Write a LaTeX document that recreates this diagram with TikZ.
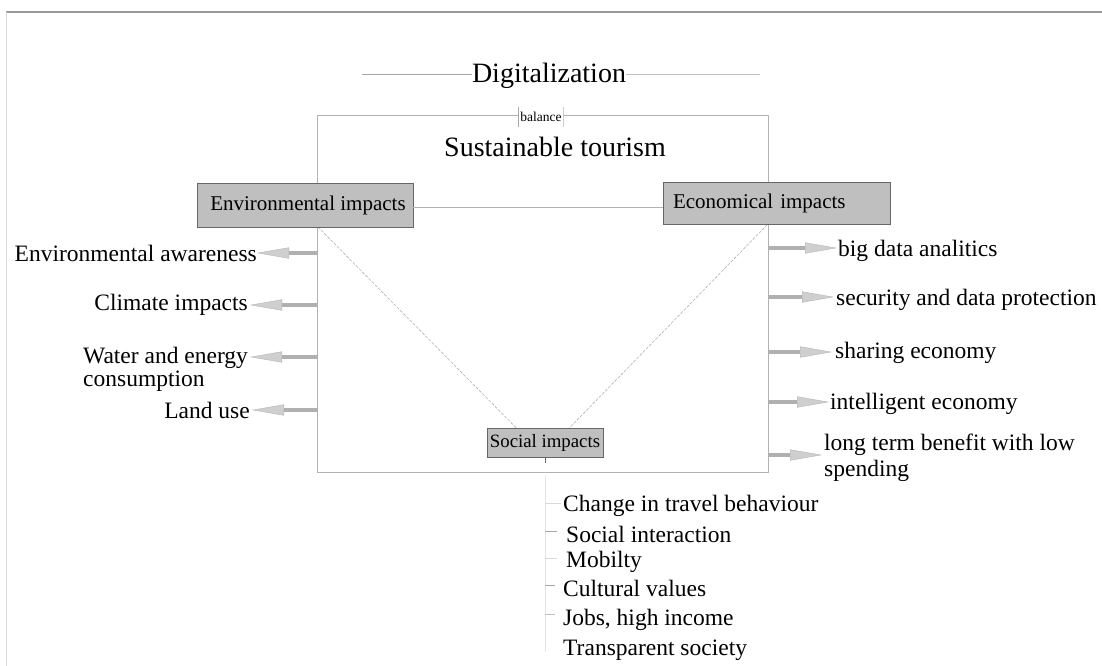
\documentclass[tikz,border=0pt]{standalone}
\usepackage{fontspec}
\setmainfont{Liberation Serif}
\usetikzlibrary{arrows.meta}
\tikzset{
  frame/.style={draw=gray!60, line width=1pt},
  faint/.style={draw=gray!30, line width=0.8pt},
  impact/.style={draw=gray!80!black, fill=gray!50, line width=0.8pt, inner sep=0pt, font=\fontsize{21}{24}\selectfont},
  big/.style={inner sep=0pt, font=\fontsize{28}{32}\selectfont},
  item/.style={inner sep=0pt, font=\fontsize{23.5}{23}\selectfont, align=left},
  fat/.style={line width=4pt, draw=gray!62, shorten <=0pt,
    -{Triangle[length=32pt,width=11pt,fill=gray!38,color=gray!58,line width=0.4pt]}},
  diag/.style={draw=gray!60, line width=0.6pt, dash pattern=on 3pt off 1.5pt},
  tick/.style={draw=gray!70, line width=1pt}
}
\begin{document}
\begin{tikzpicture}[x=1pt,y=-1pt]
\useasboundingbox (0,0) rectangle (1102,666);
\fill[white] (0,0) rectangle (1102,666);
% page edges
\coordinate (tl) at (6,12);
\coordinate (tr) at (1102,12);
\coordinate (bl) at (6,666);
\draw[draw=gray!80, line width=1.5pt] (tl) -- (tr);
\draw[faint] (tl) -- (bl);

% Digitalization
\node[big] (dig) at (549,76) {Digitalization};
\coordinate (digL) at (362,74);
\coordinate (digR) at (760,74);
\draw[draw=gray!70, line width=0.8pt] (digL) -- (dig.west |- digL);
\draw[faint, draw=gray!50] (dig.east |- digR) -- (digR);

% sustainable tourism frame
\node[inner xsep=1.5pt, inner ysep=0pt, minimum height=19pt, font=\fontsize{13.5}{14}\selectfont] (bal) at (541,117) {balance};
\coordinate (ftl) at (317,116);
\coordinate (ftr) at (768,116);
\coordinate (fbl) at (317,472);
\coordinate (fbr) at (768,472);
\draw[frame] (bal.west |- ftl) -- (ftl) -- (fbl) -- (fbr) -- (ftr) -- (bal.east |- ftr);
\draw[draw=gray!70, line width=0.6pt] (bal.north west) -- (bal.south west);
\draw[draw=gray!40, line width=0.6pt] (bal.north east) -- (bal.south east);
\node[big] (st) at (555,147) {Sustainable tourism};

% dashed diagonals to social
\coordinate (envB) at (318,227);
\coordinate (ecoB) at (768,224);
\coordinate (soc0) at (543,455);
\draw[diag] (envB) -- (soc0) -- (ecoB);

% impact boxes
\node[impact, minimum width=216pt, minimum height=44pt] (env) at (305,205) {\hspace{6pt}Environmental impacts};
\node[impact, minimum width=227pt, minimum height=42pt, text width=207pt, align=left] (eco) at (776.5,203) {Economical impacts};
\draw[draw=gray!60, line width=1pt] (env.east |- 0,207) -- (eco.west |- 0,207);
\node[impact, minimum width=116pt, minimum height=29pt, font=\fontsize{18.8}{22}\selectfont] (soc) at (545,442.5) {Social impacts};

% left items
\node[item, anchor=east] (l1) at (257,253) {Environmental awareness};
\node[item, anchor=east] (l2) at (248,305) {Climate impacts};
\node[item, anchor=north west] (l3) at (83,347) {Water and energy\\consumption};
\node[item, anchor=east] (l4) at (250,410) {Land use};
\coordinate (la1) at (318,253);
\coordinate (la2) at (318,305);
\coordinate (la3) at (318,357);
\coordinate (la4) at (318,410);
\draw[fat] (la1) -- (l1.east |- la1);
\draw[fat] (la2) -- ([xshift=2pt]l2.east |- la2);
\draw[fat] (la3) -- ([xshift=2pt]l3.east |- la3);
\draw[fat] (la4) -- ([xshift=2pt]l4.east |- la4);

% right items
\node[item, anchor=west] (r1) at (838,251) {big data analitics};
\node[item, anchor=west] (r2) at (836,300) {security and data protection};
\node[item, anchor=west] (r3) at (835,353) {sharing economy};
\node[item, anchor=west] (r4) at (830,404) {intelligent economy};
\node[item, anchor=north west, font=\fontsize{23.5}{26}\selectfont] (r5) at (824,434) {long term benefit with low\\spending};
\coordinate (ra1) at (768,248);
\coordinate (ra2) at (768,297);
\coordinate (ra3) at (768,352);
\coordinate (ra4) at (768,402);
\coordinate (ra5) at (768,455);
\draw[fat] (ra1) -- ([xshift=-1pt]r1.west |- ra1);
\draw[fat] (ra2) -- ([xshift=-2pt]r2.west |- ra2);
\draw[fat] (ra3) -- ([xshift=-3pt]r3.west |- ra3);
\draw[fat] (ra4) -- ([xshift=-1pt]r4.west |- ra4);
\draw[fat] (ra5) -- ([xshift=-2pt]r5.west |- ra5);

% social items
\coordinate (sv0) at (545,463);
\coordinate (sv1) at (545,475);
\coordinate (sv2) at (545,652);
\draw[draw=gray!80!black, line width=0.8pt] (soc.south -| sv0) -- (sv0);
\draw[faint, draw=gray!20] (sv1) -- (sv2);
\node[item, anchor=west] (s1) at (563,506) {Change in travel behaviour};
\node[item, anchor=west] (s2) at (566,534) {Social interaction};
\node[item, anchor=west] (s3) at (566,562) {Mobilty};
\node[item, anchor=west] (s4) at (563,588) {Cultural values};
\node[item, anchor=west] (s5) at (563,620) {Jobs, high income};
\node[item, anchor=west] (s6) at (563,650) {Transparent society};
\draw[tick, draw=gray!30] (sv1 |- 0,503) -- ([xshift=-2pt]s1.west |- 0,503);
\draw[tick] (sv1 |- 0,531) -- ([xshift=-9pt]s2.west |- 0,531);
\draw[tick, draw=gray!30] (sv1 |- 0,558) -- ([xshift=-9pt]s3.west |- 0,558);
\draw[tick] (sv1 |- 0,585) -- ([xshift=-8pt]s4.west |- 0,585);
\draw[tick, draw=gray!50] (sv1 |- 0,614) -- ([xshift=-8pt]s5.west |- 0,614);
\end{tikzpicture}
\end{document}
